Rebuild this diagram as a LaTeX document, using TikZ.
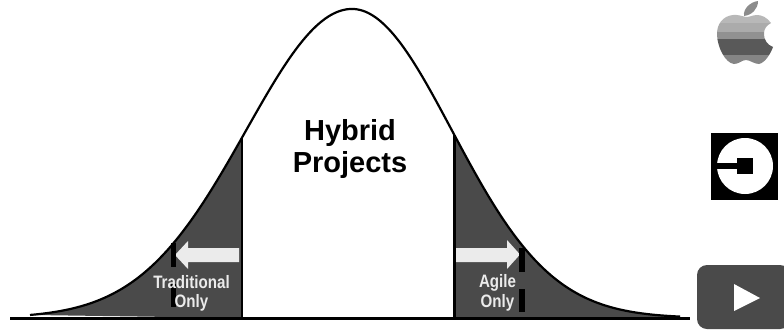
\documentclass[tikz,border=0pt]{standalone}
\usepackage{fontspec}
\setmainfont{Liberation Sans}
\definecolor{tail}{HTML}{4A4A4A}
\definecolor{pale}{HTML}{EBEBEB}
\tikzset{
  curveline/.style={draw=black,line width=2.2pt},
  baseline rule/.style={draw=black,line width=2.2pt},
  divider/.style={draw=black,line width=2.4pt},
  tailfill/.style={fill=tail},
  arrowshape/.style={fill=pale},
  tick/.style={fill=black},
  bigtext/.style={font=\bfseries\fontsize{29}{32}\selectfont,align=center,inner sep=0pt},
  smalltext/.style={font=\bfseries\fontsize{18}{18}\selectfont,text=pale,inner sep=0pt,anchor=base,transform shape}
}
\begin{document}
\begin{tikzpicture}[x=1pt,y=-1pt,
  declare function={gl(\x)=318-309*exp(-0.5*((\x-352)/106)^2);
                     gr(\x)=318-309*exp(-0.5*((\x-352)/100)^2);}]
\useasboundingbox (0,0) rectangle (784,330);
% tails
\fill[tailfill] plot[domain=30:242,samples=80] (\x,{gl(\x)}) -- (242,318) -- cycle;
\fill[tailfill] plot[domain=454:680,samples=80] (\x,{gr(\x)}) -- (680,318) -- (454,318) -- cycle;
% curve
\draw[curveline,line join=round] plot[domain=30:352,samples=120] (\x,{gl(\x)});
\draw[curveline,line join=round] plot[domain=352:680,samples=120] (\x,{gr(\x)});
% dividers and baseline
\draw[divider] (242,{gl(242)}) -- (242,318);
\draw[divider] (454.5,{gr(454.5)}) -- (454.5,318);
\draw[baseline rule] (10,318.5) -- (690,318.5);
% arrows
\fill[arrowshape] (239,248) -- (188,248) -- (188,241) -- (175,255) -- (188,269) -- (188,262) -- (239,262) -- cycle;
\fill[arrowshape] (456,248) -- (507,248) -- (507,240) -- (520,254.5) -- (507,269) -- (507,262) -- (456,262) -- cycle;
% ticks
\fill[tick] (170.5,243) rectangle (175.5,267);
\fill[tick] (170.5,284) rectangle (175.5,307);
\fill[tick] (519,248) rectangle (525,272);
\fill[tick] (519,289) rectangle (525,312);
% text
\node[bigtext] (hybrid) at (350,149) {Hybrid\\Projects};
\node[smalltext,xscale=.84] (trad) at (191.5,288) {Traditional};
\node[smalltext,xscale=.84] (tonly) at (191.5,307) {Only};
\node[smalltext,xscale=.84] (agile) at (497.5,287) {Agile};
\node[smalltext,xscale=.84] (aonly) at (497.5,307) {Only};
% apple
\begin{scope}
\clip (746,17) .. controls (741,16) and (738,14.5) .. (733,15)
  .. controls (723,16) and (716.5,24) .. (717,35)
  .. controls (717.5,47) and (725,63) .. (734,64)
  .. controls (739,64) and (742,60) .. (746,60)
  .. controls (750,60) and (754,64) .. (759,64)
  .. controls (765,63) and (771,53) .. (773,47)
  .. controls (767,45) and (763.5,39) .. (764,33)
  .. controls (764,29) and (767,25) .. (771,23)
  .. controls (767,17) and (761,15) .. (757,15)
  .. controls (753,15) and (750,17) .. (746,17) -- cycle;
\fill[black!28] (710,10) rectangle (780,23);
\fill[black!33] (710,23) rectangle (780,32);
\fill[black!43] (710,32) rectangle (780,39);
\fill[black!65] (710,39) rectangle (780,55);
\fill[black!48] (710,55) rectangle (780,70);
\end{scope}
\fill[black!45] (744,16) .. controls (743,9) and (750,2) .. (758,1) .. controls (758,9) and (752,15) .. (744,16) -- cycle;
% uber
\fill[black] (711,133) rectangle (778,200);
\fill[white] (745,166) circle[radius=28];
\fill[black] (716,163) rectangle (738,169);
\fill[black] (737,158) rectangle (753,174);
% play button
\fill[tail,rounded corners=10pt] (697,265) rectangle (790,329);
\fill[white] (734,284) -- (760,298) -- (734,311) -- cycle;
\end{tikzpicture}
\end{document}
